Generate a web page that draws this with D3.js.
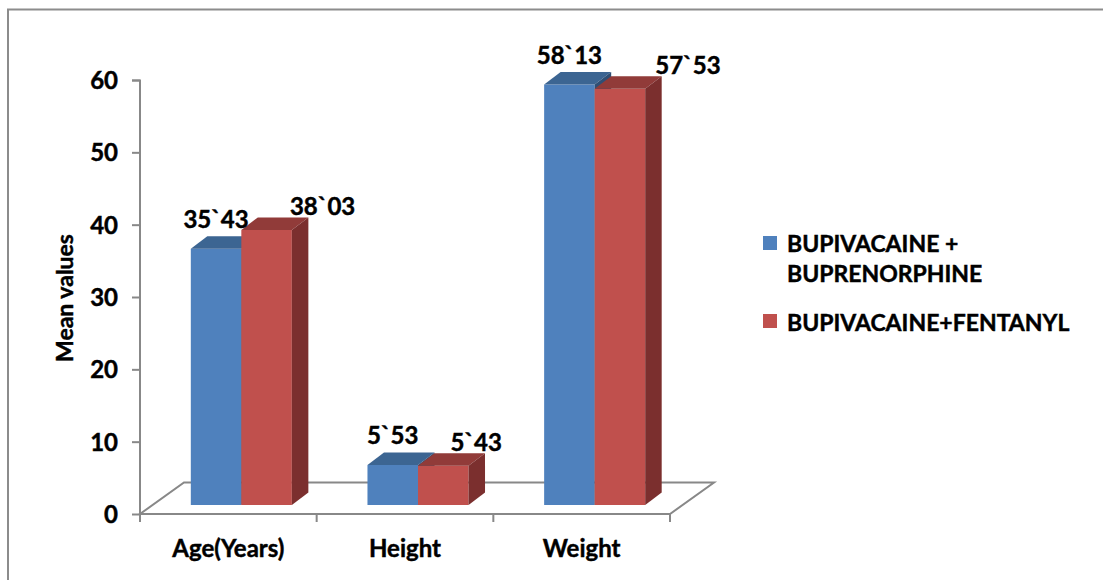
<!DOCTYPE html>
<html>
<head>
<meta charset="utf-8">
<script src="https://cdn.jsdelivr.net/npm/d3@7"></script>
<style>
  html, body { margin: 0; padding: 0; background: #fff; }
  svg { display: block; }
  text { font-family: Lato, "Open Sans", sans-serif; font-weight: bold; fill: #000; stroke: #000; stroke-width: 0.45px; }
</style>
</head>
<body>
<svg id="chart" width="1103" height="580"></svg>
<script>
// Mean values per group
const categories = ["Age(Years)", "Height", "Weight"];
const seriesNames = ["BUPIVACAINE + BUPRENORPHINE", "BUPIVACAINE+FENTANYL"];
const buprenorphine = [35.43, 5.53, 58.13];
const fentanyl = [38.03, 5.43, 57.53];
const valueLabelsBup = ["35`43", "5`53", "58`13"];
const valueLabelsFen = ["38`03", "5`43", "57`53"];
const yTicks = [0, 10, 20, 30, 40, 50, 60];

// Label nudges for the second series (perspective of the 3D view)
const fenLabelShift = [55, 32, 67];

const colors = [
  { front: "#4F81BD", top: "#3C6592", side: "#2F4F75" },
  { front: "#C0504D", top: "#913B39", side: "#7B2F2E" }
];

const svg = d3.select("#chart");

// outer frame
svg.append("path")
  .attr("d", "M8,590 L8,9.5 L1110,9.5")
  .attr("fill", "none").attr("stroke", "#8c8c8c").attr("stroke-width", 2);

const y = d3.scaleLinear().domain([0, 60]).range([514, 80]);
const x = d3.scaleBand().domain(categories).range([140, 670]).padding(0);

// depth of the floor and of the bars
const floorDepth = { dx: 44, dy: -31.5 };
const barShift = { dx: 13, dy: -9 };
const barDepth = { dx: 16.5, dy: -12.5 };

const axisColor = "#888";

// floor
const x0 = x.range()[0], x1 = x.range()[1], yf = y(0);
svg.append("path")
  .attr("d", `M${x0},${yf} L${x1},${yf} L${x1 + floorDepth.dx},${yf + floorDepth.dy} L${x0 + floorDepth.dx},${yf + floorDepth.dy} Z`)
  .attr("fill", "none").attr("stroke", axisColor).attr("stroke-width", 2);

// category tick marks
const catTicks = categories.map(c => x(c)).concat([x1]);
svg.selectAll(".ctick").data(catTicks).enter().append("line")
  .attr("x1", d => d).attr("x2", d => d)
  .attr("y1", yf).attr("y2", yf + 8)
  .attr("stroke", axisColor).attr("stroke-width", 2);

// value axis
const yAxis = d3.axisLeft(y).tickValues(yTicks).tickSize(8).tickPadding(14).tickFormat(d3.format("d"));
const gy = svg.append("g").attr("transform", `translate(${x0},0)`).call(yAxis);
gy.select(".domain").attr("stroke", axisColor).attr("stroke-width", 2).attr("d", `M-8,80.5H0V${yf}`);
gy.selectAll(".tick line").attr("stroke", axisColor).attr("stroke-width", 2);
gy.selectAll(".tick text")
  .attr("font-family", "Lato, sans-serif").attr("font-weight", "bold")
  .attr("font-size", 24).attr("fill", "#000").attr("dy", "0.36em");

// axis title
svg.append("text")
  .attr("transform", "translate(73,298) rotate(-90)")
  .attr("text-anchor", "middle").attr("font-size", 23)
  .text("Mean values");

// category labels
svg.selectAll(".clabel").data(categories).enter().append("text")
  .attr("x", d => x(d) + x.bandwidth() / 2)
  .attr("y", 557)
  .attr("text-anchor", "middle").attr("font-size", 24)
  .text(d => d);

// bars
const groupW = x.bandwidth() * 0.572;
const xs = d3.scaleBand().domain([0, 1]).range([0, groupW]);
const seriesValues = [buprenorphine, fentanyl];

function drawBar(g, left, w, v, col) {
  const bx = left, by = y(v) + barShift.dy, base = yf + barShift.dy;
  const dx = barDepth.dx, dy = barDepth.dy;
  g.append("rect").attr("x", bx).attr("y", by).attr("width", w).attr("height", base - by)
    .attr("fill", col.front);
  g.append("path")
    .attr("d", `M${bx},${by} L${bx + dx},${by + dy} L${bx + w + dx},${by + dy} L${bx + w},${by} Z`)
    .attr("fill", col.top);
  g.append("path")
    .attr("d", `M${bx + w},${by} L${bx + w + dx},${by + dy} L${bx + w + dx},${base + dy} L${bx + w},${base} Z`)
    .attr("fill", col.side);
}

const bars = svg.append("g");
categories.forEach((c, i) => {
  const gx = x(c) + (x.bandwidth() - groupW) / 2 + barShift.dx;
  seriesValues.forEach((vals, s) => {
    drawBar(bars, gx + xs(s), xs.bandwidth(), vals[i], colors[s]);
  });
});

// value labels
const labels = svg.append("g").attr("font-size", 24).attr("text-anchor", "middle");
categories.forEach((c, i) => {
  const gx = x(c) + (x.bandwidth() - groupW) / 2 + barShift.dx;
  const w = xs.bandwidth();
  const topBup = y(buprenorphine[i]) + barShift.dy + barDepth.dy;
  labels.append("text")
    .attr("x", gx + xs(0) + w / 2)
    .attr("y", topBup - 8)
    .text(valueLabelsBup[i]);
  const topFen = y(fentanyl[i]) + barShift.dy + barDepth.dy;
  labels.append("text")
    .attr("x", gx + xs(1) + w / 2 + fenLabelShift[i] + 1)
    .attr("y", topFen - 2)
    .text(valueLabelsFen[i]);
});

// legend
const legend = svg.append("g").attr("font-size", 23);
legend.append("rect").attr("x", 763).attr("y", 236).attr("width", 14).attr("height", 14).attr("fill", colors[0].front);
legend.append("text").attr("x", 787).attr("y", 252).text("BUPIVACAINE +");
legend.append("text").attr("x", 787).attr("y", 282).text("BUPRENORPHINE");
legend.append("rect").attr("x", 763).attr("y", 314).attr("width", 14).attr("height", 14).attr("fill", colors[1].front);
legend.append("text").attr("x", 787).attr("y", 331).text(seriesNames[1]);
</script>
</body>
</html>
